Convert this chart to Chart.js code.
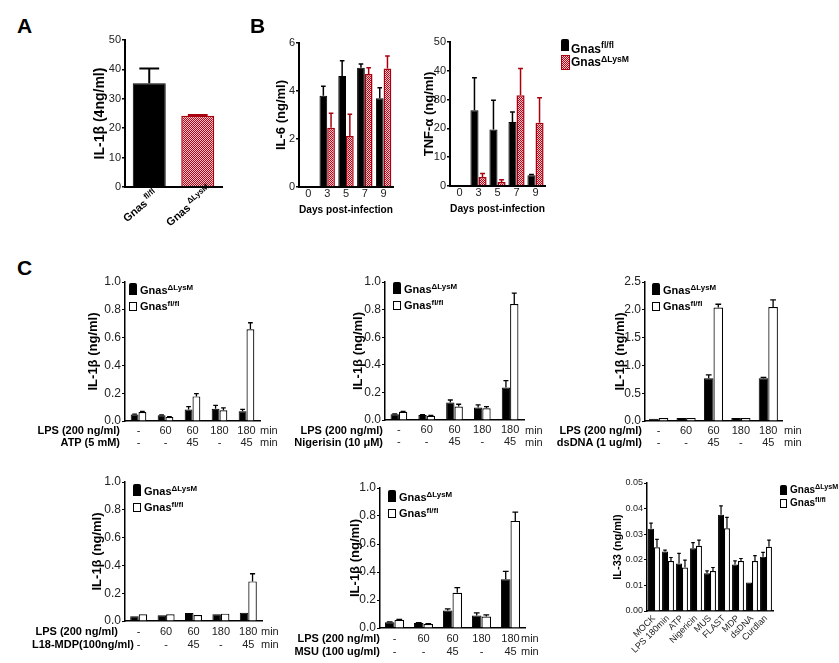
<!DOCTYPE html>
<html>
<head>
<meta charset="utf-8">
<script src="https://cdn.jsdelivr.net/npm/chart.js@4.4.1/dist/chart.umd.min.js"></script>
<style>
  html, body { margin: 0; padding: 0; background: #fff; overflow: hidden; }
  #page { position: relative; width: 839px; height: 663px; overflow: hidden;
          font-family: "Liberation Sans", Arial, sans-serif; color: #000; }
  #page canvas { position: absolute; }
  .txt { position: absolute; white-space: nowrap; }
  .txt sup { font-size: 0.72em; position: relative; top: -0.55em; vertical-align: baseline; line-height: 0; }
  .letter { font-weight: bold; font-size: 21px; line-height: 21px; }
  .sw { position: absolute; box-sizing: border-box; }
  .sw.black { background: #000; border-radius: 2px 2px 0 0; }
  .sw.white { background: #fff; border: 1px solid #000; }
  .sw.red { background: repeating-conic-gradient(#c00018 0 25%, #f3c9c9 0 50%) 0 0/2px 2px; border: 1px solid #a8000f; }
</style>
</head>
<body>
<div id="page">
  <canvas id="chartA"></canvas>
  <canvas id="chartB1"></canvas>
  <canvas id="chartB2"></canvas>
  <canvas id="chartC1"></canvas>
  <canvas id="chartC2"></canvas>
  <canvas id="chartC3"></canvas>
  <canvas id="chartC4"></canvas>
  <canvas id="chartC5"></canvas>
  <canvas id="chartC6"></canvas>
  <div class="txt letter" style="left:17px;top:15px">A</div>
  <div class="txt letter" style="left:250px;top:15px">B</div>
  <div class="txt letter" style="left:17px;top:257px">C</div>
</div>
<script>
// group names (used as superscripts)
const floxName = 'fl/fl';
const lysmName = 'ΔLysM';

// ---- Panel A : IL-1b (4ng/ml)
const aGroups = [floxName, lysmName];
const aMean = [35.3, 24.2];
const aSem = [5.0, 0.3];

// ---- Panel B : days post-infection
const days = ['0', '3', '5', '7', '9'];
const il6Flox = [0, 3.8, 4.62, 4.97, 3.7];
const il6FloxSem = [0, 0.4, 0.64, 0.15, 0.44];
const il6Lysm = [0, 2.47, 2.12, 4.71, 4.94];
const il6LysmSem = [0, 0.6, 0.91, 0.26, 0.52];
const tnfFlox = [0, 26.3, 19.6, 22.2, 3.7];
const tnfFloxSem = [0, 11.3, 10.2, 3.5, 0.3];
const tnfLysm = [0, 3.1, 1.4, 31.5, 22];
const tnfLysmSem = [0, 1.2, 0.8, 9.3, 8.6];

// ---- Panel C : treatment table under each chart
const lpsMin = ['-', '60', '60', '180', '180'];
const stimMin = ['-', '-', '45', '-', '45'];

const atpLysm = [0.046, 0.041, 0.083, 0.089, 0.07];
const atpLysmSem = [0.004, 0.003, 0.02, 0.024, 0.014];
const atpFlox = [0.065, 0.029, 0.177, 0.077, 0.66];
const atpFloxSem = [0.004, 0.003, 0.02, 0.017, 0.047];

const nigLysm = [0.041, 0.036, 0.126, 0.09, 0.235];
const nigLysmSem = [0.003, 0.003, 0.019, 0.019, 0.051];
const nigFlox = [0.06, 0.031, 0.097, 0.085, 0.84];
const nigFloxSem = [0.003, 0.003, 0.017, 0.012, 0.08];

const dsLysm = [0.04, 0.054, 0.77, 0.054, 0.77];
const dsLysmSem = [0, 0, 0.06, 0, 0.015];
const dsFlox = [0.054, 0.054, 2.04, 0.054, 2.05];
const dsFloxSem = [0, 0, 0.06, 0, 0.13];

const mdpLysm = [0.034, 0.041, 0.058, 0.048, 0.06];
const mdpLysmSem = [0, 0, 0, 0, 0];
const mdpFlox = [0.048, 0.048, 0.043, 0.053, 0.285];
const mdpFloxSem = [0, 0, 0, 0, 0.055];

const msuLysm = [0.041, 0.036, 0.125, 0.089, 0.348];
const msuLysmSem = [0.003, 0.002, 0.012, 0.019, 0.057];
const msuFlox = [0.058, 0.029, 0.252, 0.082, 0.765];
const msuFloxSem = [0.003, 0.002, 0.036, 0.012, 0.062];

const il33Stim = ['MOCK', 'LPS 180min', 'ATP', 'Nigericin', 'MUS', 'FLAST', 'MDP', 'dsDNA', 'Curdlan'];
const il33Lysm = [0.0321, 0.0232, 0.0186, 0.0245, 0.0147, 0.0376, 0.0182, 0.0111, 0.0212];
const il33LysmSem = [0.0022, 0.0006, 0.0039, 0.0022, 0.001, 0.0035, 0.0014, 0, 0.0017];
const il33Flox = [0.0249, 0.0195, 0.017, 0.0255, 0.0156, 0.0323, 0.0195, 0.0195, 0.0251];
const il33FloxSem = [0.0031, 0.0014, 0.0029, 0.0022, 0.0014, 0.0043, 0.001, 0.0021, 0.0026];


const FONT = '"Liberation Sans", Arial, sans-serif';
const PAGE_W = 839;
const YW = 60, PAD_TOP = 14, PAD_RIGHT = 12;
const page = document.getElementById('page');

// red checkered fill like the prism pattern
function checker() {
  const p = document.createElement('canvas');
  p.width = 2; p.height = 2;
  const g = p.getContext('2d');
  g.fillStyle = '#f3c9c9'; g.fillRect(0, 0, 2, 2);
  g.fillStyle = '#c00018'; g.fillRect(0, 0, 1, 1); g.fillRect(1, 1, 1, 1);
  return g.createPattern(p, 'repeat');
}
const RED = checker();
const RED_EDGE = '#a8000f';

function blackSeries(data, sem) { return {data, sem, fill: '#000', border: '#000', bw: 1, err: '#000'}; }
function whiteSeries(data, sem) { return {data, sem, fill: '#fff', border: '#000', bw: 1.2, err: '#000'}; }
function redSeries(data, sem) { return {data, sem, fill: RED, border: RED_EDGE, bw: 1.5, err: RED_EDGE}; }

// upper error bars (mean + sem)
const errorBars = {
  id: 'errorBars',
  afterDatasetsDraw(chart, args, o) {
    const ctx = chart.ctx, y = chart.scales.y;
    chart.data.datasets.forEach((ds, i) => {
      if (!ds.sem) return;
      chart.getDatasetMeta(i).data.forEach((bar, j) => {
        const sem = ds.sem[j];
        if (!sem) return;
        const yTop = y.getPixelForValue(ds.data[j] + sem);
        const half = bar.width * o.cap;
        ctx.save();
        ctx.strokeStyle = Array.isArray(ds.errColor) ? ds.errColor[j] : ds.errColor;
        ctx.lineWidth = o.width;
        ctx.beginPath();
        ctx.moveTo(bar.x, bar.y);
        ctx.lineTo(bar.x, yTop);
        ctx.moveTo(bar.x - half, yTop);
        ctx.lineTo(bar.x + half, yTop);
        ctx.stroke();
        ctx.restore();
      });
    });
  }
};

// rotated "Gnas<sup>" category labels for panel A
const supLabels = {
  id: 'supLabels',
  afterDraw(chart, args, o) {
    const ctx = chart.ctx, xs = chart.scales.x;
    const bottom = chart.chartArea.bottom;
    o.sups.forEach((sup, i) => {
      ctx.save();
      ctx.translate(xs.getPixelForValue(i) + o.dx, bottom + o.dy);
      ctx.rotate(o.angle * Math.PI / 180);
      ctx.fillStyle = '#000';
      ctx.font = 'bold 11px ' + FONT;
      const w1 = ctx.measureText('Gnas').width;
      ctx.font = 'bold 8px ' + FONT;
      const w2 = ctx.measureText(sup).width;
      const x0 = -(w1 + 2 + w2) / 2;
      ctx.font = 'bold 11px ' + FONT;
      ctx.fillText('Gnas', x0, 4);
      ctx.font = 'bold 8px ' + FONT;
      ctx.fillText(sup, x0 + w1 + 2, -1);
      ctx.restore();
    });
  }
};

function makeChart(id, box, labels, series, o, extra) {
  const c = document.getElementById(id);
  const left = box.axisX - YW, top = box.top - PAD_TOP;
  c.width = box.right - left + PAD_RIGHT;
  c.height = box.bottom - top + box.xh;
  c.style.left = left + 'px';
  c.style.top = top + 'px';
  const tSize = o.titleSize || 13;
  const datasets = series.map(s => ({
    data: s.data, sem: s.sem, errColor: s.err,
    backgroundColor: s.fill, borderColor: s.border, borderWidth: s.bw,
    categoryPercentage: o.catPct, barPercentage: 1
  }));
  return new Chart(c, {
    type: 'bar',
    data: {labels: labels, datasets: datasets},
    options: {
      responsive: false,
      animation: false,
      layout: {padding: {top: PAD_TOP, right: PAD_RIGHT, left: 0, bottom: 0}},
      plugins: {
        legend: {display: false},
        tooltip: {enabled: false},
        errorBars: {width: o.errWidth || 1.5, cap: 0.3},
        supLabels: o.supLabels || {}
      },
      scales: {
        x: {
          grid: {display: false, drawTicks: false},
          border: {color: '#000', width: o.axisWidth},
          ticks: {
            display: o.xTicks !== false,
            autoSkip: false,
            minRotation: o.rot || 0, maxRotation: o.rot || 0,
            padding: o.xPad || 0,
            color: '#222',
            font: {family: FONT, size: o.xFont || 11, lineHeight: (o.xLine || 13) / (o.xFont || 11)}
          },
          title: {
            display: !!o.xTitle, text: o.xTitle || '', color: '#000', padding: 0,
            font: {family: FONT, size: 11, weight: 'bold'}
          },
          afterFit: s => { s.height = box.xh; }
        },
        y: {
          min: 0, max: o.yMax,
          grid: {drawOnChartArea: false, drawTicks: true, tickLength: 3, color: '#000', lineWidth: o.axisWidth > 1.5 ? 1.5 : 1},
          border: {color: '#000', width: o.axisWidth},
          ticks: {
            stepSize: o.yStep, padding: 1, color: '#222',
            font: {family: FONT, size: o.yFont || 11},
            callback: v => v.toFixed(o.digits || 0)
          },
          title: {
            display: true, text: o.yTitle, color: '#000',
            font: {family: FONT, size: tSize, weight: 'bold'},
            padding: {top: YW - o.titleOffset - tSize * 0.6, bottom: 0}
          },
          afterFit: s => { s.width = YW; }
        }
      }
    },
    plugins: [errorBars].concat(extra || [])
  });
}

// text helpers
function put(html, x, cy, fs, weight, align, color) {
  const d = document.createElement('div');
  d.className = 'txt';
  d.innerHTML = html;
  d.style.fontSize = fs + 'px';
  d.style.lineHeight = (fs * 1.2) + 'px';
  d.style.fontWeight = weight || 'normal';
  d.style.color = color || '#000';
  d.style.top = (cy - fs * 0.6) + 'px';
  if (align === 'right') d.style.right = (PAGE_W - x) + 'px';
  else d.style.left = x + 'px';
  page.appendChild(d);
}
function swatch(kind, x, y, w, h) {
  const d = document.createElement('div');
  d.className = 'sw ' + kind;
  d.style.cssText = `left:${x}px;top:${y}px;width:${w}px;height:${h}px`;
  page.appendChild(d);
}
function cLegend(x, y, s) {
  s = s || {fs: 11, first: 8, step: 16, base: 4, h: [12, 9], w: 8, dx: 11};
  [['black', lysmName], ['white', floxName]].forEach((r, i) => {
    const cy = y + s.first + i * s.step;
    swatch(r[0], x, cy + s.base - s.h[i], s.w, s.h[i]);
    put('Gnas<sup>' + r[1] + '</sup>', x + s.dx, cy, s.fs, 'bold');
  });
}
function rowLabels(texts, right, ys, minX) {
  texts.forEach((t, i) => {
    put(t, right[i], ys[i], 11, 'bold', 'right');
    put('min', minX, ys[i], 11, 'normal', 'left', '#222');
  });
}

// chart frames (pixel positions of axes on the page)
const boxA  = {axisX: 125, right: 222, top: 40,  bottom: 187, xh: 45};
const boxB1 = {axisX: 299, right: 393, top: 43,  bottom: 187, xh: 30};
const boxB2 = {axisX: 450, right: 545, top: 42,  bottom: 186, xh: 30};
const boxC1 = {axisX: 125, right: 260, top: 282, bottom: 421, xh: 30};
const boxC2 = {axisX: 385, right: 524, top: 282, bottom: 420, xh: 30};
const boxC3 = {axisX: 645, right: 782, top: 282, bottom: 421, xh: 30};
const boxC4 = {axisX: 125, right: 262, top: 482, bottom: 621, xh: 32};
const boxC5 = {axisX: 380, right: 525, top: 488, bottom: 628, xh: 32};
const boxC6 = {axisX: 647, right: 773, top: 483, bottom: 611, xh: 52};

// ---- A
makeChart('chartA', boxA, aGroups, [{
  data: aMean, sem: aSem, fill: ['#000', RED], border: ['#000', RED_EDGE], bw: [1, 1.5], err: ['#000', RED_EDGE]
}], {
  yMax: 50, yStep: 10, yTitle: 'IL-1β (4ng/ml)', titleSize: 14, titleOffset: 25,
  axisWidth: 2, catPct: 0.68, xTicks: false, errWidth: 2,
  supLabels: {sups: aGroups, dx: -9, dy: 19, angle: -40}
}, [supLabels]);

// ---- B
makeChart('chartB1', boxB1, days, [blackSeries(il6Flox, il6FloxSem), redSeries(il6Lysm, il6LysmSem)], {
  yMax: 6, yStep: 2, yTitle: 'IL-6 (ng/ml)', titleOffset: 18, axisWidth: 2, catPct: 0.82,
  xTitle: 'Days post-infection', xPad: 0
});
makeChart('chartB2', boxB2, days, [blackSeries(tnfFlox, tnfFloxSem), redSeries(tnfLysm, tnfLysmSem)], {
  yMax: 50, yStep: 10, yTitle: 'TNF-α (ng/ml)', titleOffset: 21, axisWidth: 2, catPct: 0.85,
  xTitle: 'Days post-infection', xPad: 0
});
swatch('black', 561, 39, 8, 12);
put('Gnas<sup>' + floxName + '</sup>', 571, 49, 12, 'bold');
swatch('red', 561, 55, 9, 15);
put('Gnas<sup>' + lysmName + '</sup>', 571, 62.5, 12, 'bold');

// ---- C
const cTicks = lpsMin.map((t, i) => [t, stimMin[i]]);
const cOpts = {yMax: 1, yStep: 0.2, digits: 1, yFont: 12, yTitle: 'IL-1β (ng/ml)', axisWidth: 1.5,
               xLine: 12, xPad: 4, errWidth: 1.3};

makeChart('chartC1', boxC1, cTicks, [blackSeries(atpLysm, atpLysmSem), whiteSeries(atpFlox, atpFloxSem)],
  Object.assign({}, cOpts, {titleOffset: 32, catPct: 0.58}));
makeChart('chartC2', boxC2, cTicks, [blackSeries(nigLysm, nigLysmSem), whiteSeries(nigFlox, nigFloxSem)],
  Object.assign({}, cOpts, {titleOffset: 27, catPct: 0.6}));
makeChart('chartC3', boxC3, cTicks, [blackSeries(dsLysm, dsLysmSem), whiteSeries(dsFlox, dsFloxSem)],
  Object.assign({}, cOpts, {yMax: 2.5, yStep: 0.5, titleOffset: 25, catPct: 0.7}));
makeChart('chartC4', boxC4, cTicks, [blackSeries(mdpLysm, mdpLysmSem), whiteSeries(mdpFlox, mdpFloxSem)],
  Object.assign({}, cOpts, {titleOffset: 28, catPct: 0.62, xLine: 13, xPad: 4.5}));
makeChart('chartC5', boxC5, cTicks, [blackSeries(msuLysm, msuLysmSem), whiteSeries(msuFlox, msuFloxSem)],
  Object.assign({}, cOpts, {titleOffset: 25, catPct: 0.66, xLine: 13, xPad: 4.5}));
makeChart('chartC6', boxC6, il33Stim, [blackSeries(il33Lysm, il33LysmSem), whiteSeries(il33Flox, il33FloxSem)], {
  yMax: 0.05, yStep: 0.01, digits: 2, yFont: 9, yTitle: 'IL-33 (ng/ml)', titleSize: 11, titleOffset: 29,
  axisWidth: 1.5, catPct: 0.85, rot: 45, xFont: 9, xLine: 11, xPad: 2, errWidth: 1.2
});

cLegend(129, 283);
cLegend(393, 282);
cLegend(652, 283);
cLegend(133, 484);
cLegend(388, 490);
cLegend(780, 485, {fs: 10, first: 5, step: 12.5, base: 5, h: [10, 9], w: 7, dx: 10});

rowLabels(['LPS (200 ng/ml)', 'ATP (5 mM)'], [120, 120], [431, 443], 260);
rowLabels(['LPS (200 ng/ml)', 'Nigerisin (10 μM)'], [383, 383], [431, 443], 525);
rowLabels(['LPS (200 ng/ml)', 'dsDNA (1 ug/ml)'], [642, 642], [431, 443], 784);
rowLabels(['LPS (200 ng/ml)', 'L18-MDP(100ng/ml)'], [118, 134], [632, 645], 261);
rowLabels(['LPS (200 ng/ml)', 'MSU (100 ug/ml)'], [380, 380], [639, 652], 521);
</script>
</body>
</html>
